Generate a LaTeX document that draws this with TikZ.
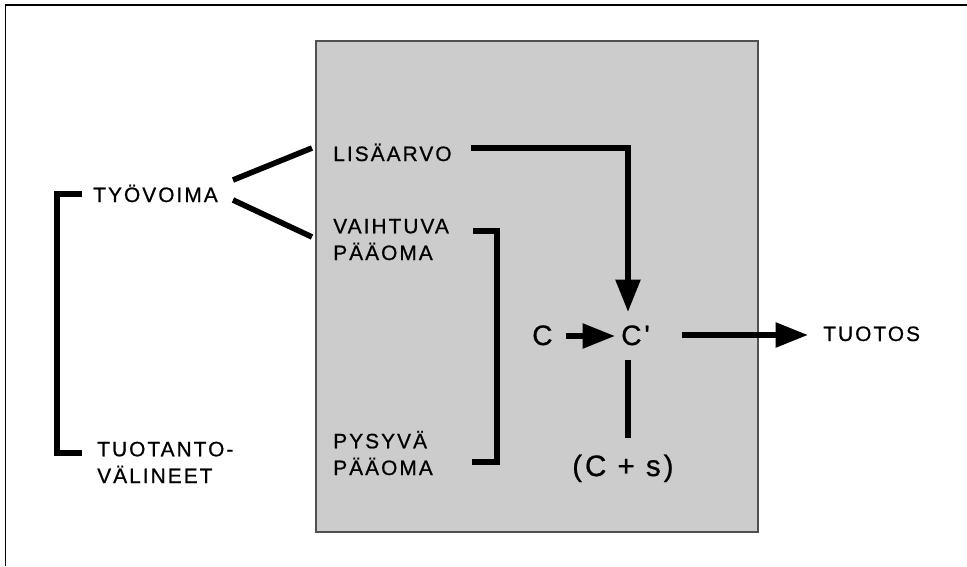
\documentclass[tikz,border=0pt]{standalone}
\usepackage{fontspec}
\setmainfont{Liberation Sans}
\newfontfamily\lblfont[LetterSpace=10, FakeBold=0.8]{Liberation Sans}
\usetikzlibrary{arrows.meta}
\definecolor{boxgray}{RGB}{204,204,204}
\definecolor{boxedge}{RGB}{80,80,80}

\begin{document}
\begin{tikzpicture}[x=0.025cm, y=-0.025cm,
  lbl/.style={font=\lblfont\fontsize{14.8}{19}\selectfont, inner sep=0pt, anchor=base west, align=left},
  big/.style={lbl, font=\lblfont\fontsize{20}{24}\selectfont},
  bar/.style={line width=4pt},
  arr/.style={bar, -{Triangle[length=23pt, width=17pt]}}]
  \useasboundingbox (0,0) rectangle (967,566);

  % Frame
  \draw[line width=1pt] (5.5,566) -- (5.5,5) -- (967,5);

  % Capital box
  \filldraw[fill=boxgray, draw=boxedge, line width=1pt] (316,41) rectangle (758,532);

  % Labels
  \node[lbl] (tyovoima) at (93,202) {TYÖVOIMA};
  \node[lbl] (tuotanto) at (97,483) {TUOTANTO-\\VÄLINEET};
  \node[lbl] (lisaarvo) at (333,161) {LISÄARVO};
  \node[lbl] (vaihtuva) at (333,260) {VAIHTUVA\\PÄÄOMA};
  \node[lbl] (pysyva) at (333,475) {PYSYVÄ\\PÄÄOMA};
  \node[big] (c) at (532,345) {C};
  \node[big] (cprime) at (621,345) {C'};
  \node[big, font=\lblfont\fontsize{21}{25}\selectfont] (cs) at (572,476) {(C + s)};
  \node[lbl] (tuotos) at (823,341) {TUOTOS};

  % Brackets
  \draw[bar] ([shift={(-11,-8)}]tyovoima.base west) -| ([shift={(-40,-30)}]tuotanto.base west)
    -- ([shift={(-15,-30)}]tuotanto.base west);
  \draw[bar] ([shift={(24,-29)}]vaihtuva.base east) -| ([shift={(164,-13)}]pysyva.base west)
    -- ([shift={(139,-13)}]pysyva.base west);

  % Split of labour power
  \draw[bar] ([shift={(15,-22)}]tyovoima.base east) -- ([shift={(-21,-13)}]lisaarvo.base west);
  \draw[bar] ([shift={(15,-2)}]tyovoima.base east) -- ([shift={(-21,-23)}]vaihtuva.base west);

  % Arrows
  \draw[arr] ([shift={(19,-13)}]lisaarvo.base east) -| ([shift={(7,-33)}]cprime.base west);
  \draw[arr] ([shift={(13,-9)}]c.base east) -- ([shift={(-6,-9)}]cprime.base west);
  \draw[arr] ([shift={(32,-10)}]cprime.base east) -- ([shift={(-15,-6)}]tuotos.base west);
  \draw[bar] ([shift={(7,15)}]cprime.base west) -- ([shift={(56,-38)}]cs.base west);
\end{tikzpicture}
\end{document}
